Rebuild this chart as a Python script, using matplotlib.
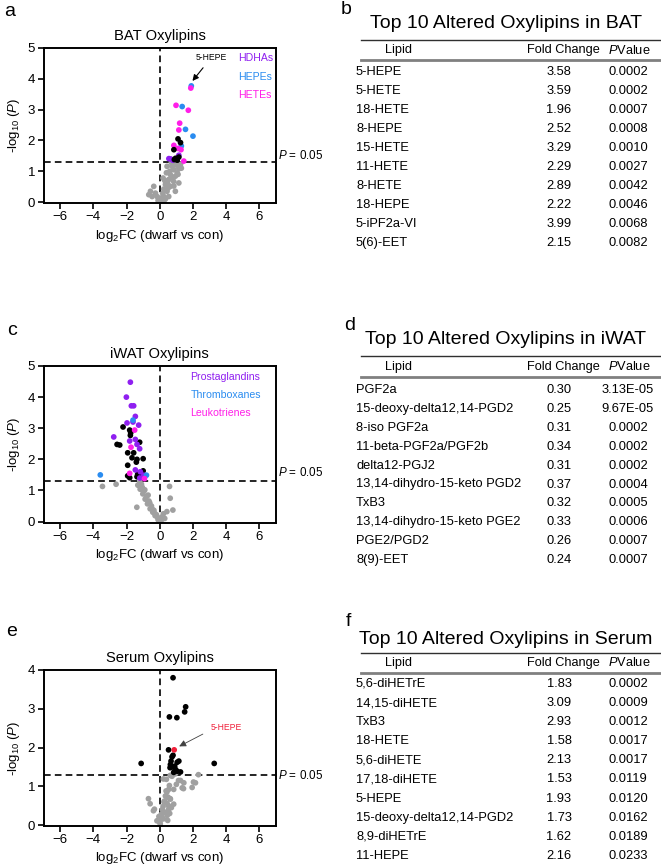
import matplotlib
matplotlib.use("Agg")
import matplotlib.pyplot as plt
from matplotlib.lines import Line2D
import numpy as np

plt.rcParams['font.family'] = ['Liberation Sans', 'DejaVu Sans']
plt.rcParams['mathtext.fontset'] = 'custom'
plt.rcParams['mathtext.rm'] = 'Liberation Sans'
plt.rcParams['mathtext.it'] = 'Liberation Sans:italic'

W, H = 661, 868
PURPLE = '#8F1FF0'
BLUE = '#2A8CF0'
MAGENTA = '#FF1EE8'
GRAY = '#A0A0A0'
RED = '#F0203A'

# ---------------- BAT volcano data ----------------
bat_hdha_x = [1.15, 0.55, 0.78, 0.66]
bat_hdha_y = [1.52, 1.41, 1.36, 1.40]
bat_hepe_x = [1.90, 1.35, 1.55, 2.00, 1.30]
bat_hepe_y = [3.77, 3.10, 2.36, 2.14, 1.82]
bat_hete_x = [1.87, 0.98, 1.72, 1.20, 1.15, 0.85, 1.10, 1.28, 1.45]
bat_hete_y = [3.70, 3.14, 2.98, 2.56, 2.34, 1.84, 1.74, 1.70, 1.33]
bat_other_x = [1.10, 1.25, 0.85, 0.95, 1.05, 0.88, 1.15]
bat_other_y = [2.05, 1.93, 1.70, 1.42, 1.36, 1.38, 1.46]
bat_ns_x = [0.44, 0.74, 1.00, 1.25, 0.84, 1.15, 0.40, 0.64, 0.94, 0.54, 0.84, 1.15,
            0.34, 0.64, 0.24, 0.44, -0.36, -0.56, -0.26, -0.66, -0.16, 0.04, 0.24,
            -0.06, 0.10, 0.00, 0.24, 0.34, -0.46, 0.94, 0.54, 1.05, 0.60, 0.30,
            0.75, 0.18, -0.10, 0.50, 1.30, 0.90, 0.70, 0.48, 0.20, 0.85, 1.10]
bat_ns_y = [1.16, 1.16, 1.20, 1.22, 1.05, 1.08, 0.95, 0.89, 0.84, 0.73, 0.67, 0.62,
            0.57, 0.51, 0.42, 0.35, 0.51, 0.35, 0.29, 0.24, 0.18, 0.13, 0.18,
            0.08, 0.04, 0.01, 0.02, 0.10, 0.18, 0.35, 0.18, 0.95, 1.00, 0.70,
            0.80, 0.28, 0.05, 0.45, 1.10, 1.25, 1.28, 0.60, 0.78, 0.52, 0.90]

# ---------------- iWAT volcano data ----------------
iwat_pg_x = [-1.77, -2.01, -1.71, -1.57, -1.47, -1.61, -1.97, -1.27, -2.77, -1.81,
             -1.47, -1.37, -1.21, -1.47, -1.17, -0.96, -1.20]
iwat_pg_y = [4.48, 4.00, 3.72, 3.72, 3.38, 3.20, 3.17, 3.10, 2.72, 2.59,
             2.64, 2.48, 2.34, 1.66, 1.60, 1.49, 1.40]
iwat_tx_x = [-1.61, -3.58, -0.80]
iwat_tx_y = [3.26, 1.50, 1.49]
iwat_lt_x = [-1.51, -1.73, -1.81, -0.92]
iwat_lt_y = [2.94, 2.39, 1.55, 1.38]
iwat_other_x = [-2.21, -1.81, -1.77, -1.21, -2.57, -2.41, -1.93, -1.57, -1.67, -1.37,
                -1.41, -1.00, -1.93, -1.00, -1.93, -1.33, -1.81, -1.06, -1.37, -1.75]
iwat_other_y = [3.04, 2.94, 2.77, 2.55, 2.48, 2.46, 2.21, 2.21, 2.05, 2.00,
                1.91, 2.02, 1.81, 1.63, 1.47, 1.52, 1.41, 1.47, 1.44, 2.85]
iwat_ns_x = [-3.45, -2.63, -1.32, -1.18, -1.02, -0.88, -0.74, -0.58, -0.42, -0.28,
             -0.14, -1.38, 0.59, 0.63, 0.79, 0.43, 0.22, 0.13, -1.20, -1.05, -0.95,
             -0.80, -0.65, -0.50, -0.35, -0.20, -0.05, 0.05, 0.30, -1.10, -0.90,
             -0.70, -0.60, -0.45, -0.30, -0.10, 0.10, 0.00]
iwat_ns_y = [1.13, 1.20, 1.17, 1.04, 0.89, 0.72, 0.57, 0.41, 0.30, 0.19,
             0.14, 0.46, 1.13, 0.75, 0.37, 0.32, 0.25, 0.15, 1.25, 1.10, 0.98,
             0.80, 0.66, 0.50, 0.36, 0.22, 0.08, 0.03, 0.10, 1.20, 1.02,
             0.85, 0.60, 0.40, 0.26, 0.06, 0.05, 0.00]

# ---------------- Serum volcano data ----------------
ser_sig_x = [0.80, 1.56, 1.50, 0.58, 1.03, 0.53, 0.74, 0.80, 1.05, 1.15, 0.68, -1.12,
             3.28, 0.64, 0.74, 0.94, 1.05, 1.25, 0.84, 0.62, 0.90]
ser_sig_y = [3.80, 3.05, 2.92, 2.79, 2.77, 1.94, 1.76, 1.80, 1.62, 1.65, 1.65, 1.59,
             1.59, 1.56, 1.50, 1.44, 1.39, 1.37, 1.36, 1.48, 1.52]
ser_hepe_x = [0.87]
ser_hepe_y = [1.94]
ser_ns_x = [-0.68, -0.58, -0.38, -0.17, 0.22, 0.63, 0.93, 1.13, 1.43, 2.03, 2.33,
            0.43, 0.63, 0.53, 0.33, 0.22, 0.03, -0.32, 0.40, 0.74, 1.25, 1.45,
            1.35, 0.84, 0.54, 1.95, 2.15, 0.34, 0.64, 0.84, 0.44, 0.54, 0.34,
            0.14, 0.00, 0.30, 0.50, 0.70, 0.20, 0.45, 0.60, 0.25, 0.10, 0.38,
            0.58, 1.00, 0.15, 0.05, -0.05, 0.48]
ser_ns_y = [0.68, 0.55, 0.37, 0.11, 1.19, 1.28, 1.32, 1.15, 0.94, 1.11, 1.30,
            0.85, 0.68, 0.50, 0.33, 0.16, 0.03, 0.41, 1.18, 1.26, 1.15, 1.09,
            0.96, 0.92, 0.92, 0.97, 1.09, 0.75, 0.67, 0.54, 0.56, 0.41, 0.32,
            0.20, 0.07, 0.62, 0.72, 0.45, 0.48, 0.25, 0.30, 0.60, 0.28, 0.88,
            1.02, 1.05, 0.40, 0.14, 0.22, 0.12]

# ---------------- Tables ----------------
bat_lipids = ['5-HEPE', '5-HETE', '18-HETE', '8-HEPE', '15-HETE', '11-HETE', '8-HETE',
              '18-HEPE', '5-iPF2a-VI', '5(6)-EET']
bat_fc = ['3.58', '3.59', '1.96', '2.52', '3.29', '2.29', '2.89', '2.22', '3.99', '2.15']
bat_p = ['0.0002', '0.0002', '0.0007', '0.0008', '0.0010', '0.0027', '0.0042', '0.0046',
         '0.0068', '0.0082']
iwat_lipids = ['PGF2a', '15-deoxy-delta12,14-PGD2', '8-iso PGF2a', '11-beta-PGF2a/PGF2b',
               'delta12-PGJ2', '13,14-dihydro-15-keto PGD2', 'TxB3',
               '13,14-dihydro-15-keto PGE2', 'PGE2/PGD2', '8(9)-EET']
iwat_fc = ['0.30', '0.25', '0.31', '0.34', '0.31', '0.37', '0.32', '0.33', '0.26', '0.24']
iwat_p = ['3.13E-05', '9.67E-05', '0.0002', '0.0002', '0.0002', '0.0004', '0.0005',
          '0.0006', '0.0007', '0.0007']
ser_lipids = ['5,6-diHETrE', '14,15-diHETE', 'TxB3', '18-HETE', '5,6-diHETE',
              '17,18-diHETE', '5-HEPE', '15-deoxy-delta12,14-PGD2', '8,9-diHETrE', '11-HEPE']
ser_fc = ['1.83', '3.09', '2.93', '1.58', '2.13', '1.53', '1.93', '1.73', '1.62', '2.16']
ser_p = ['0.0002', '0.0009', '0.0012', '0.0017', '0.0017', '0.0119', '0.0120', '0.0162',
         '0.0189', '0.0233']

fig = plt.figure(figsize=(W / 100, H / 100), dpi=100)


def fx(x):
    return x / W


def fy(y):
    return 1 - y / H


def volcano(top, bottom, ymax, title, series, ns, legend, thr_text_y):
    ax = fig.add_axes([fx(43.5), fy(bottom), fx(276) - fx(43.5), (bottom - top) / H])
    ax.scatter(ns[0], ns[1], s=17, color=GRAY, edgecolors='none', zorder=2)
    for xs, ys, c in series:
        ax.scatter(xs, ys, s=17, color=c, edgecolors='none', zorder=3)
    ax.axvline(0, color='black', ls=(0, (4, 2.5)), lw=1.2, zorder=1)
    ax.axhline(-np.log10(0.05), color='black', ls=(0, (4, 2.5)), lw=1.2, zorder=1)
    ax.set_xlim(-7, 7)
    ax.set_ylim(-0.03 * ymax / 5, ymax)
    ax.set_xticks([-6, -4, -2, 0, 2, 4, 6])
    ax.set_yticks(range(0, ymax + 1))
    for s in ax.spines.values():
        s.set_linewidth(1.4)
    ax.tick_params(direction='out', length=4, width=1.2, labelsize=9.5, pad=2)
    ax.set_title(title, fontsize=10.6, pad=6)
    ax.set_xlabel(r'log$_2$FC (dwarf vs con)', fontsize=9.5, labelpad=3)
    ax.set_ylabel(r'-log$_{10}$ ($\mathit{P}$)', fontsize=9.5, labelpad=4)
    ax.text(1.01, thr_text_y, r'$\mathit{P}$ = 0.05', transform=ax.get_yaxis_transform(),
            fontsize=8.4, va='center', ha='left', clip_on=False)
    for txt, c, x, y in legend:
        ax.text(x, y, txt, color=c, fontsize=7.6, va='center', ha='left')
    return ax


ax_a = volcano(48, 203, 5, 'BAT Oxylipins',
               [(bat_hdha_x, bat_hdha_y, PURPLE), (bat_hepe_x, bat_hepe_y, BLUE),
                (bat_hete_x, bat_hete_y, MAGENTA), (bat_other_x, bat_other_y, 'black')],
               (bat_ns_x, bat_ns_y),
               [('HDHAs', PURPLE, 4.72, 4.66), ('HEPEs', BLUE, 4.72, 4.07),
                ('HETEs', MAGENTA, 4.72, 3.47)], 1.52)
ax_a.annotate('5-HEPE', xy=(1.97, 3.93), xytext=(3.12, 4.70), fontsize=6.2, ha='center',
              va='center',
              arrowprops=dict(arrowstyle='-|>', color='black', lw=0.8,
                              shrinkA=3, shrinkB=0, mutation_scale=9))

ax_c = volcano(366, 522.5, 5, 'iWAT Oxylipins',
               [(iwat_other_x, iwat_other_y, 'black'), (iwat_pg_x, iwat_pg_y, PURPLE),
                (iwat_tx_x, iwat_tx_y, BLUE), (iwat_lt_x, iwat_lt_y, MAGENTA)],
               (iwat_ns_x, iwat_ns_y),
               [('Prostaglandins', PURPLE, 1.85, 4.66), ('Thromboxanes', BLUE, 1.85, 4.07),
                ('Leukotrienes', MAGENTA, 1.85, 3.49)], 1.57)

ax_e = volcano(670, 826, 4, 'Serum Oxylipins',
               [(ser_sig_x, ser_sig_y, 'black'), (ser_hepe_x, ser_hepe_y, RED)],
               (ser_ns_x, ser_ns_y), [], 1.29)
ax_e.annotate('5-HEPE', xy=(1.17, 2.03), xytext=(4.0, 2.52), fontsize=6.2, color=RED,
              ha='center', va='center',
              arrowprops=dict(arrowstyle='-|>', color='#404040', lw=0.6,
                              shrinkA=4, shrinkB=0, mutation_scale=10,
                              relpos=(0.0, 0.2)))

# panel labels
for lab, x, y in [('a', 10, 12), ('c', 12, 330), ('e', 12, 632),
                  ('b', 346, 10), ('d', 350, 326), ('f', 348, 621)]:
    fig.text(fx(x), fy(y), lab, fontsize=14, ha='center', va='center')


def table(title, title_y, line_y, header_y, gray_y, row0, step, lipids, fc, pv):
    fig.text(fx(506), fy(title_y), title, fontsize=14.0, ha='center', va='center')
    fig.add_artist(Line2D([fx(361), fx(661)], [fy(line_y), fy(line_y)], color='#303030',
                          lw=1.0))
    fig.text(fx(398), fy(header_y), 'Lipid', fontsize=9.2, ha='center', va='center')
    fig.text(fx(563), fy(header_y), 'Fold Change', fontsize=9.2, ha='center', va='center')
    fig.text(fx(629), fy(header_y), r'$\mathit{P}$Value', fontsize=9.2, ha='center',
             va='center')
    fig.add_artist(Line2D([fx(361), fx(661)], [fy(gray_y), fy(gray_y)], color='#808080',
                          lw=2.0))
    for i, (n, f, p) in enumerate(zip(lipids, fc, pv)):
        y = row0 + i * step
        fig.text(fx(356), fy(y), n, fontsize=9.3, ha='left', va='center')
        fig.text(fx(559), fy(y), f, fontsize=9.3, ha='center', va='center')
        fig.text(fx(628), fy(y), p, fontsize=9.3, ha='center', va='center')


table('Top 10 Altered Oxylipins in BAT', 23, 40, 50, 60, 72, 19.0,
      bat_lipids, bat_fc, bat_p)
table('Top 10 Altered Oxylipins in iWAT', 340, 356, 367, 377, 390, 18.9,
      iwat_lipids, iwat_fc, iwat_p)
table('Top 10 Altered Oxylipins in Serum', 639, 653, 663, 673, 684, 19.1,
      ser_lipids, ser_fc, ser_p)

fig.savefig('out.png', dpi=100)
